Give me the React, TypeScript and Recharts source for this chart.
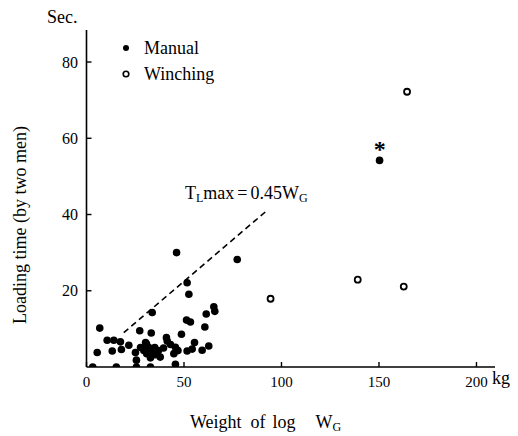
import React from 'react';
import { ScatterChart, Scatter, XAxis, YAxis, ReferenceLine } from 'recharts';

// manual loading, one man-pair each (kg, sec)
const manualData = [
  { x: 46.2, y: 30.0 }, { x: 77.3, y: 28.2 }, { x: 51.6, y: 22.1 }, { x: 52.5, y: 19.1 },
  { x: 33.7, y: 14.3 }, { x: 65.3, y: 15.8 }, { x: 65.8, y: 14.6 }, { x: 61.4, y: 13.9 },
  { x: 51.3, y: 12.3 }, { x: 53.3, y: 11.8 }, { x: 6.8, y: 10.2 }, { x: 27.3, y: 9.5 },
  { x: 33.2, y: 8.9 }, { x: 60.7, y: 10.5 }, { x: 48.7, y: 8.6 }, { x: 10.6, y: 7.0 },
  { x: 14.0, y: 7.0 }, { x: 17.4, y: 6.6 }, { x: 13.2, y: 4.2 }, { x: 5.5, y: 3.8 },
  { x: 17.9, y: 4.6 }, { x: 21.7, y: 5.7 }, { x: 27.7, y: 5.1 }, { x: 25.1, y: 3.8 },
  { x: 30.3, y: 6.4 }, { x: 32.0, y: 5.1 }, { x: 29.4, y: 4.3 }, { x: 30.9, y: 3.5 },
  { x: 33.5, y: 3.8 }, { x: 32.8, y: 2.4 }, { x: 25.6, y: 1.8 }, { x: 35.2, y: 3.2 },
  { x: 37.8, y: 2.6 }, { x: 36.9, y: 4.3 }, { x: 41.0, y: 7.7 }, { x: 41.4, y: 6.8 },
  { x: 43.1, y: 5.9 }, { x: 45.6, y: 5.2 }, { x: 46.9, y: 4.3 }, { x: 44.8, y: 3.5 },
  { x: 51.6, y: 4.2 }, { x: 54.2, y: 4.7 }, { x: 55.4, y: 6.4 }, { x: 59.3, y: 4.4 },
  { x: 62.7, y: 5.5 }, { x: 45.6, y: 0.7 }, { x: 3.2, y: 0 }, { x: 15.3, y: 0 },
  { x: 25.6, y: 0 }, { x: 32.8, y: 0 }, { x: 39.5, y: 5.0 }, { x: 35.0, y: 5.1 },
  { x: 30.8, y: 6.0 }, { x: 150.3, y: 54.2 },
];

const winchingData = [
  { x: 94.4, y: 17.9 }, { x: 139.1, y: 22.9 }, { x: 162.7, y: 21.1 }, { x: 164.4, y: 72.2 },
];

const markedData = [{ x: 150.4, y: 58.2 }];

// TLmax = 0.45 WG
const limitLine = [{ x: 19.1, y: 9.0 }, { x: 92.7, y: 41.1 }];

const xTicks = [0, 50, 100, 150, 200];
const yTicks = [20, 40, 60, 80];

const FONT = '"Liberation Serif", "Times New Roman", serif';

const XTick = (props: any) => (
  <text x={props.x} y={props.y} dy="0.71em" textAnchor="middle" fontSize={15} fontFamily={FONT} fill="#000">
    {props.payload.value}
  </text>
);
const YTick = (props: any) => (
  <text x={props.x} y={props.y} dy="0.355em" textAnchor="end" fontSize={16} fontFamily={FONT} fill="#000">
    {props.payload.value}
  </text>
);

const FilledDot = (props: any) => <circle cx={props.cx} cy={props.cy} r={3.8} fill="#000" />;
const OpenDot = (props: any) => (
  <circle cx={props.cx} cy={props.cy} r={3} fill="#fff" stroke="#000" strokeWidth={1.8} />
);
const Asterisk = (props: any) => (
  <text x={props.cx} y={props.cy + 12} textAnchor="middle" fontSize={24} fontWeight="bold" fontFamily={FONT} fill="#000">
    *
  </text>
);

const txt: React.CSSProperties = {
  position: 'absolute',
  fontFamily: FONT,
  fontSize: 18,
  lineHeight: '20px',
  color: '#000',
  whiteSpace: 'nowrap',
};
const sub: React.CSSProperties = { fontSize: 12, position: 'relative', top: 3 };

export default function App() {
  return (
    <div style={{ position: 'absolute', left: 0, top: 0, width: 518, height: 436, background: '#fff', fontFamily: FONT }}>
      <ScatterChart
        width={518}
        height={436}
        margin={{ top: 30, right: 23, bottom: 39, left: 36 }}
        style={{ fontFamily: FONT }}
      >
        <XAxis
          type="number"
          dataKey="x"
          domain={[0, 209.5]}
          ticks={xTicks}
          allowDataOverflow
          tickSize={-5}
          tickMargin={14}
          height={30}
          axisLine={{ stroke: '#000', strokeWidth: 1.6 }}
          tickLine={{ stroke: '#000', strokeWidth: 1.4 }}
          tick={XTick}
        />
        <YAxis
          type="number"
          dataKey="y"
          domain={[0, 88.4]}
          ticks={yTicks}
          allowDataOverflow
          tickSize={-5}
          tickMargin={13.5}
          width={50.5}
          axisLine={{ stroke: '#000', strokeWidth: 1.6 }}
          tickLine={{ stroke: '#000', strokeWidth: 1.4 }}
          tick={YTick}
        />
        <ReferenceLine
          segment={limitLine}
          stroke="#000"
          strokeWidth={1.6}
          strokeDasharray="6 4"
          ifOverflow="visible"
        />
        <Scatter name="Manual" data={manualData} shape={FilledDot} isAnimationActive={false} />
        <Scatter name="Winching" data={winchingData} shape={OpenDot} isAnimationActive={false} />
        <Scatter name="Marked" data={markedData} shape={Asterisk} isAnimationActive={false} />
      </ScatterChart>

      {/* legend */}
      <svg style={{ position: 'absolute', left: 0, top: 0 }} width={518} height={436} pointerEvents="none">
        <circle cx={126} cy={48} r={3} fill="#000" />
        <circle cx={126} cy={74} r={2.8} fill="#fff" stroke="#000" strokeWidth={1.6} />
      </svg>
      <div style={{ ...txt, left: 144, top: 38 }}>Manual</div>
      <div style={{ ...txt, left: 144, top: 64 }}>Winching</div>

      <div style={{ ...txt, left: 47, top: 7 }}>Sec.</div>
      <div style={{ ...txt, left: 492, top: 368 }}>kg</div>

      <div style={{ ...txt, left: 190, top: 412 }}>
        <span>Weight</span>
        <span style={{ marginLeft: 9 }}>of</span>
        <span style={{ marginLeft: 7 }}>log</span>
        <span style={{ marginLeft: 20 }}>W</span>
        <span style={sub}>G</span>
      </div>

      <div
        style={{
          ...txt,
          left: 20,
          top: 225,
          transform: 'translate(-50%, -50%) rotate(-90deg)',
        }}
      >
        Loading time (by two men)
      </div>

      <div style={{ ...txt, left: 185, top: 183 }}>
        <span>T</span>
        <span style={sub}>L</span>
        <span>max</span>
        <span style={{ margin: '0 3px' }}>=</span>
        <span>0.45W</span>
        <span style={sub}>G</span>
      </div>
    </div>
  );
}
